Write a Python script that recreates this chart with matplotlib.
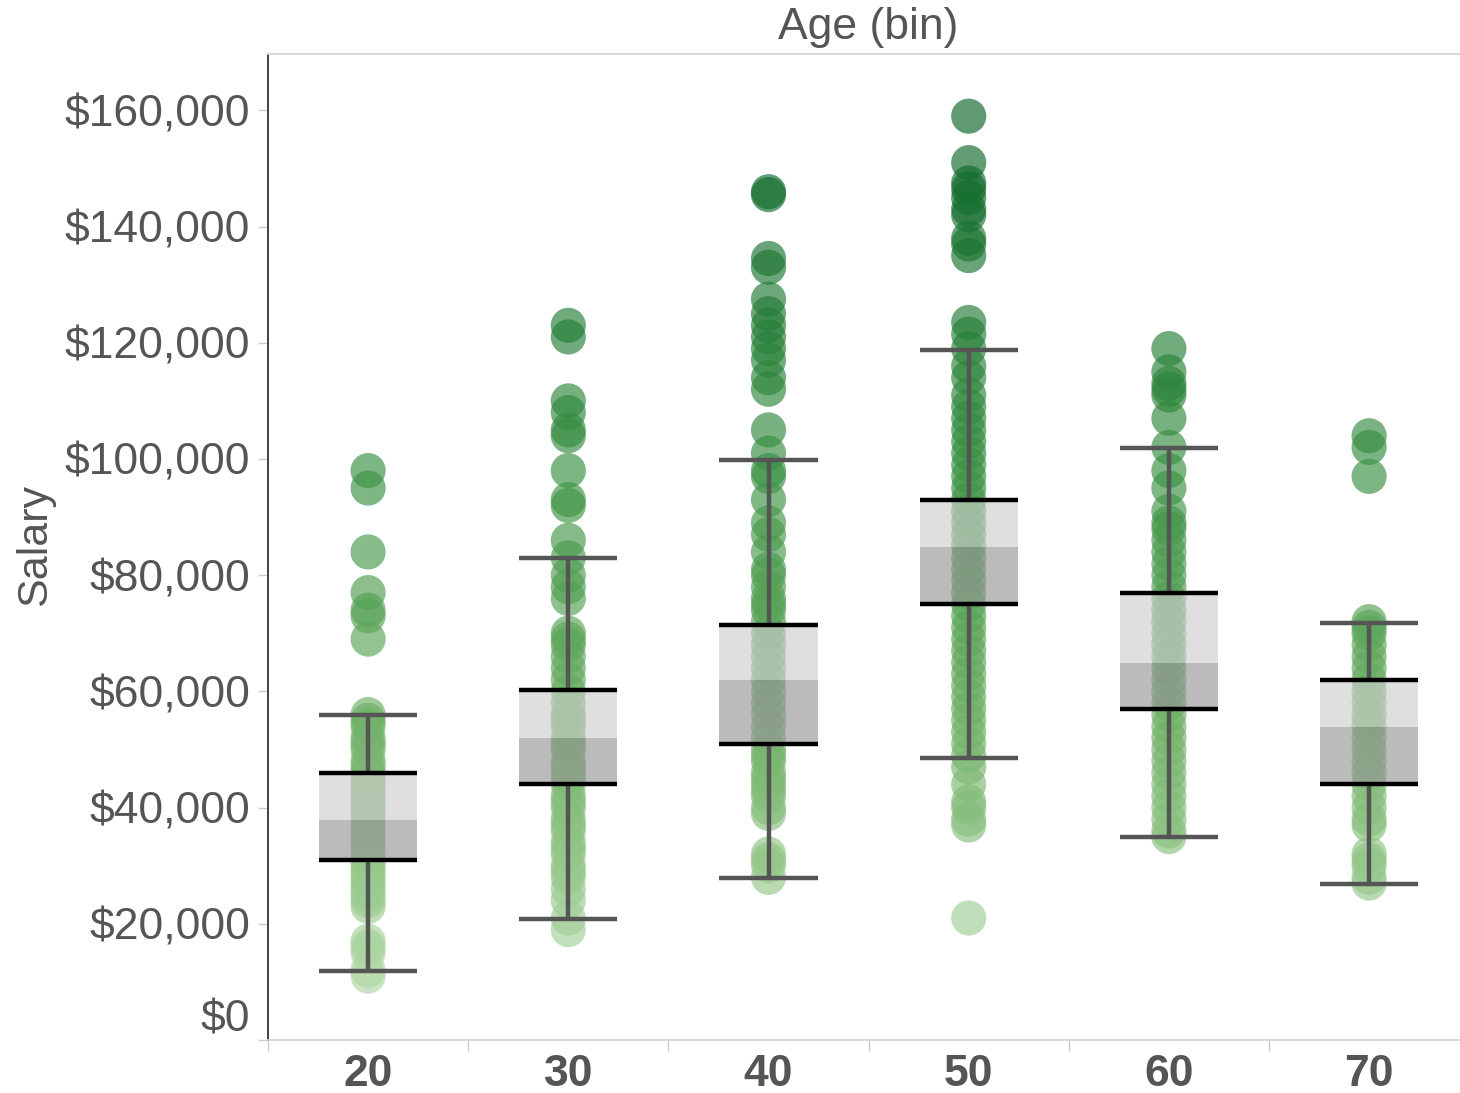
import numpy as np
import matplotlib
matplotlib.use("Agg")
import matplotlib.pyplot as plt
from matplotlib.colors import LinearSegmentedColormap, Normalize
from matplotlib.ticker import FuncFormatter

plt.rcParams['font.family'] = ['Liberation Sans', 'DejaVu Sans']

# age bins
bins = ["20", "30", "40", "50", "60", "70"]

# salaries, one list per age bin
sal_20 = [98000, 95000, 84000, 77000, 74000, 73000, 69000,
          56000, 55000, 54000, 52000, 51000, 50000, 48000, 47000, 46000, 45000,
          44000, 43000, 42000, 41000, 40000, 39000, 38000, 37000, 36000, 35000,
          34000, 33000, 32000, 31000, 30000, 29000, 28000, 27000, 26000, 25000,
          24000, 23000, 17000, 16000, 15000, 12000, 11000]
sal_30 = [123000, 121000, 110000, 108000, 105000, 104000, 98000, 93000, 92000,
          86000, 83000, 80000, 78000, 76000, 70000, 69000, 68000, 66000, 64000,
          62000, 60000, 58000, 56000, 55000, 54000, 52000, 51000, 50000, 48000,
          47000, 46000, 45000, 44000, 42000, 41000, 40000, 38000, 37000, 36000,
          34000, 33000, 32000, 30000, 29000, 28000, 26000, 24000, 21000, 19000]
sal_40 = [146000, 145500, 134500, 133000, 127500, 125000, 123000, 121000, 119000,
          117000, 114000, 112000, 105000, 101000, 98000, 97000, 93000, 89000, 87000,
          84000, 81000, 80000, 78000, 76000, 75000, 74000, 72000, 70000, 68000,
          66000, 64000, 62000, 60000, 58000, 56000, 54000, 52000, 50000, 49000,
          48000, 46000, 45000, 44000, 43000, 42000, 40000, 39000, 32000, 31000,
          30000, 28000]
sal_50 = [159000, 151000, 147500, 146500, 145000, 143000, 142000, 138000, 137000,
          135000, 123500, 121500, 119000, 116000, 114000, 111000, 109000, 107000,
          105000, 103000, 101000, 99000, 97000, 95000, 93000, 91000, 89000, 87000,
          85000, 83000, 81000, 79000, 77000, 75000, 73000, 71000, 69000, 67000,
          65000, 63000, 61000, 59000, 57000, 55000, 53000, 51000, 49000, 47000,
          44000, 41000, 40000, 38000, 37000, 21000]
sal_60 = [119000, 115000, 113000, 112000, 111000, 107000, 102000, 98000, 95000,
          91000, 89000, 88000, 86000, 84000, 82000, 80000, 78000, 76000, 74000,
          72000, 70000, 68000, 66000, 64000, 62000, 60000, 58000, 56000, 54000,
          52000, 50000, 48000, 46000, 44000, 42000, 40000, 38000, 36000, 35000]
sal_70 = [104000, 102000, 97000, 72000, 71000, 70000, 68000, 66000, 64000, 62000,
          60000, 58000, 56000, 54000, 52000, 50000, 48000, 46000, 44000, 42000,
          40000, 38000, 37000, 32000, 31000, 30000, 28000, 27000]
salaries = [sal_20, sal_30, sal_40, sal_50, sal_60, sal_70]

# box plot stats
whisker_lo = [11900, 20900, 27800, 48600, 35000, 26900]
q1 = [31000, 44000, 50900, 75000, 56900, 44000]
median = [37800, 51900, 61900, 84800, 64800, 53800]
q3 = [46000, 60200, 71500, 92900, 77000, 62000]
whisker_hi = [55900, 83000, 99800, 118800, 101900, 71700]

yticks = [0, 20000, 40000, 60000, 80000, 100000, 120000, 140000, 160000]

fig = plt.figure(figsize=(14.6, 10.93), dpi=100)
ax = fig.add_axes([268 / 1460, 1 - 1040 / 1093, 1 - 268 / 1460, (1040 - 54) / 1093])

cmap = LinearSegmentedColormap.from_list(
    "tgreen", [(0.0, "#b0d8a4"), (0.3, "#6fb066"), (0.6, "#3a9143"), (1.0, "#0c6629")])
norm = Normalize(vmin=10000, vmax=155000)

xpos = np.arange(len(bins))
for i, vals in enumerate(salaries):
    vals = np.array(vals)
    ax.scatter(np.full(len(vals), xpos[i]), vals, s=640, c=cmap(norm(vals)),
               alpha=0.66, edgecolors='none', zorder=2)

box_w = 0.49
grey = "#555555"
# whisker stems outside the box
ax.vlines(xpos, q3, whisker_hi, colors=grey, lw=3.2, zorder=3)
ax.vlines(xpos, whisker_lo, q1, colors=grey, lw=3.2, zorder=3)
# box halves, semi-transparent over the dots
ax.bar(xpos, np.array(q3) - np.array(median), bottom=median, width=box_w,
       color="#cdcdcd", alpha=0.64, zorder=4, linewidth=0)
ax.bar(xpos, np.array(median) - np.array(q1), bottom=q1, width=box_w,
       color="#959595", alpha=0.64, zorder=4, linewidth=0)
# quartile lines and whisker caps
ax.hlines(q3, xpos - box_w / 2, xpos + box_w / 2, colors="black", lw=3.2, zorder=5)
ax.hlines(q1, xpos - box_w / 2, xpos + box_w / 2, colors="black", lw=3.2, zorder=5)
ax.hlines(whisker_hi, xpos - box_w / 2, xpos + box_w / 2, colors=grey, lw=3.2, zorder=5)
ax.hlines(whisker_lo, xpos - box_w / 2, xpos + box_w / 2, colors=grey, lw=3.2, zorder=5)

ax.set_xlim(-0.494, 5.454)
ax.set_ylim(0, 169700)

# y axis
ax.set_yticks(yticks)
ax.yaxis.set_major_formatter(FuncFormatter(lambda v, p: "${:,.0f}".format(v)))
ax.tick_params(axis='y', labelsize=32, labelcolor="#555555", color="#cccccc",
               length=7, width=1, pad=6)
ylabels = ax.get_yticklabels()
ylabels[0].set_verticalalignment('bottom')

# x axis: separators between bins, labels at centres
ax.set_xticks(np.arange(-0.5, 5.5, 1.0))
ax.set_xticklabels([])
ax.set_xticks(xpos, minor=True)
ax.set_xticklabels(bins, minor=True)
ax.tick_params(axis='x', which='major', color="#cccccc", length=8, width=1)
ax.tick_params(axis='x', which='minor', length=0, labelsize=32, labelcolor="#555555", pad=10)
for lab in ax.get_xticklabels(minor=True):
    lab.set_fontweight('bold')

ax.spines['right'].set_visible(False)
ax.spines['left'].set_color("#333333")
ax.spines['left'].set_linewidth(1.3)
ax.spines['top'].set_color("#d6d6d6")
ax.spines['top'].set_linewidth(1.3)
ax.spines['bottom'].set_color("#d6d6d6")
ax.spines['bottom'].set_linewidth(1.3)

fig.text(868 / 1460, 1 - 27 / 1093, "Age (bin)", ha='center', va='center',
         fontsize=32, color="#555555")
fig.text(35 / 1460, 1 - 545 / 1093, "Salary", ha='center', va='center',
         rotation=90, fontsize=31, color="#555555")

fig.savefig("out.png", dpi=100)
